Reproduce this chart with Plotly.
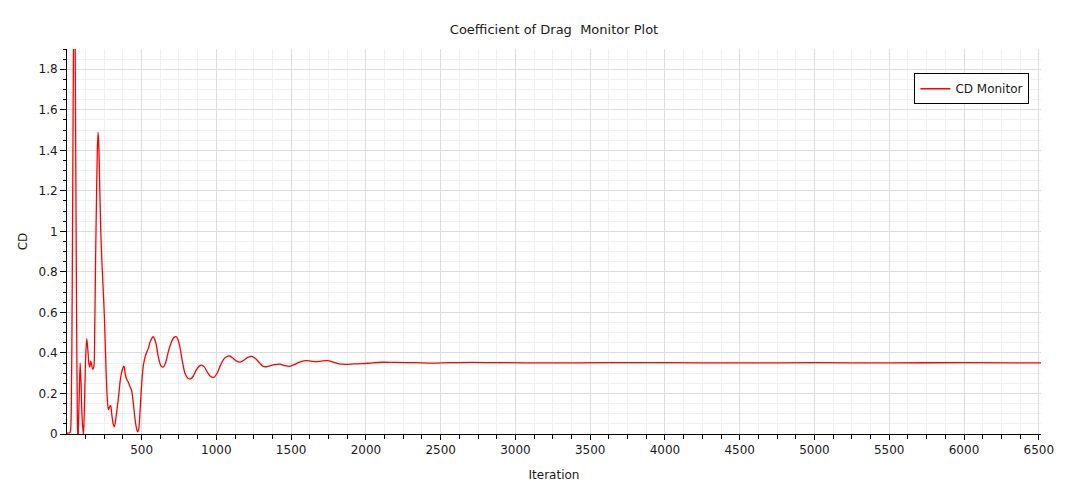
import plotly.graph_objects as go

# Iteration values
iterations = [0, 10, 20, 25, 30, 35, 40, 45, 50, 55, 60, 65, 70, 74, 78, 84, 89, 95, 102, 111,
              118, 125, 133, 140, 147, 153, 160, 166, 172, 180, 186, 192, 198, 204, 209, 214,
              220, 227, 234, 240, 251, 262, 270, 278, 286, 293, 300, 310, 318, 330, 345, 360,
              372, 382, 392, 400, 411, 422, 433, 445, 455, 465, 473, 480, 490, 500, 512, 527,
              544, 560, 578, 595, 612, 630, 644, 660, 680, 700, 718, 733, 750, 770, 790, 810,
              827, 845, 865, 885, 900, 920, 940, 960, 984, 1005, 1025, 1045, 1065, 1089, 1110,
              1135, 1160, 1185, 1210, 1238, 1265, 1290, 1310, 1333, 1360, 1390, 1422, 1455,
              1489, 1520, 1555, 1600, 1630, 1667, 1705, 1744, 1780, 1820, 1867, 1920, 1978,
              2040, 2111, 2200, 2333, 2444, 2556, 2700, 2900, 3200, 3600, 4000, 4500, 5000,
              5500, 6000, 6515]

cd_values = [0.004, 0.004, 0.006, 0.02, 0.15, 0.6, 1.3, 2.0, 2.4, 2.0, 1.3, 0.6, 0.1, -0.05,
             0.05, 0.22, 0.35, 0.25, 0.08, -0.005, 0.15, 0.36, 0.47, 0.42, 0.35, 0.33, 0.36,
             0.34, 0.32, 0.33, 0.5, 0.85, 1.15, 1.4, 1.49, 1.42, 1.22, 1.0, 0.86, 0.76, 0.58,
             0.32, 0.18, 0.12, 0.135, 0.14, 0.1, 0.05, 0.035, 0.09, 0.18, 0.28, 0.32, 0.335,
             0.29, 0.27, 0.255, 0.235, 0.215, 0.15, 0.08, 0.03, 0.01, 0.02, 0.12, 0.24, 0.34,
             0.39, 0.42, 0.46, 0.48, 0.45, 0.38, 0.335, 0.33, 0.35, 0.41, 0.455, 0.478, 0.48,
             0.45, 0.37, 0.3, 0.275, 0.272, 0.285, 0.315, 0.335, 0.34, 0.33, 0.305, 0.285,
             0.28, 0.3, 0.335, 0.365, 0.38, 0.385, 0.375, 0.36, 0.355, 0.365, 0.378, 0.383,
             0.37, 0.35, 0.335, 0.332, 0.337, 0.342, 0.345, 0.338, 0.334, 0.342, 0.355, 0.362,
             0.36, 0.356, 0.36, 0.362, 0.355, 0.346, 0.344, 0.346, 0.347, 0.351, 0.354, 0.353,
             0.352, 0.35, 0.352, 0.353, 0.352, 0.351, 0.352, 0.352, 0.351, 0.352, 0.351,
             0.352, 0.351]

x_tick_values = [500, 1000, 1500, 2000, 2500, 3000, 3500, 4000, 4500, 5000, 5500, 6000, 6500]
y_tick_values = [0, 0.2, 0.4, 0.6, 0.8, 1.0, 1.2, 1.4, 1.6, 1.8]
y_tick_labels = ["0", "0.2", "0.4", "0.6", "0.8", "1", "1.2", "1.4", "1.6", "1.8"]

FONT = "DejaVu Sans"
TXT = "#1a1a1a"

fig = go.Figure()
fig.add_trace(go.Scatter(
    x=iterations, y=cd_values, mode="lines", name="CD Monitor",
    line=dict(color="#ff0000", width=1.3, shape="spline", smoothing=0.8),
))

fig.update_layout(
    width=1076, height=494,
    margin=dict(l=67, r=35, t=49, b=60, autoexpand=False),
    paper_bgcolor="white", plot_bgcolor="white",
    font=dict(family=FONT, size=12, color=TXT),
    title=dict(text="Coefficient of Drag\u00a0\u00a0Monitor Plot", x=0.5, xanchor="center",
               xref="paper", y=1 - 29 / 494, yref="container", yanchor="middle",
               font=dict(family=FONT, size=13, color=TXT)),
    showlegend=True,
    legend=dict(x=0.87, y=0.937, xanchor="left", yanchor="top", bgcolor="white",
                bordercolor="black", borderwidth=1, font=dict(family=FONT, size=12, color=TXT),
                itemwidth=30),
)

fig.update_xaxes(
    range=[1, 6515], tickmode="array", tickvals=x_tick_values,
    ticktext=[str(v) for v in x_tick_values],
    showline=True, linecolor="black", linewidth=1, mirror=False,
    ticks="outside", ticklen=5, tickcolor="black",
    showgrid=True, gridcolor="#dddddd", gridwidth=1, zeroline=False,
    minor=dict(tick0=0, dtick=125, ticks="outside", ticklen=4, tickcolor="black",
               showgrid=True, gridcolor="#f0f0f0"),
    title=dict(text="Iteration", standoff=14, font=dict(family=FONT, size=12, color=TXT)),
)

fig.update_yaxes(
    range=[0, 1.9], tickmode="array", tickvals=y_tick_values, ticktext=y_tick_labels,
    showline=True, linecolor="black", linewidth=1, mirror=False,
    ticks="outside", ticklen=6, tickcolor="black",
    showgrid=True, gridcolor="#dddddd", gridwidth=1, zeroline=False,
    minor=dict(tick0=0, dtick=0.05, ticks="outside", ticklen=3, tickcolor="black",
               showgrid=True, gridcolor="#f0f0f0"),
    title=dict(text="CD", standoff=8, font=dict(family=FONT, size=12, color=TXT)),
)

fig.write_html("out.html", config={"displayModeBar": False},
               post_script="document.body.style.margin='0';")
